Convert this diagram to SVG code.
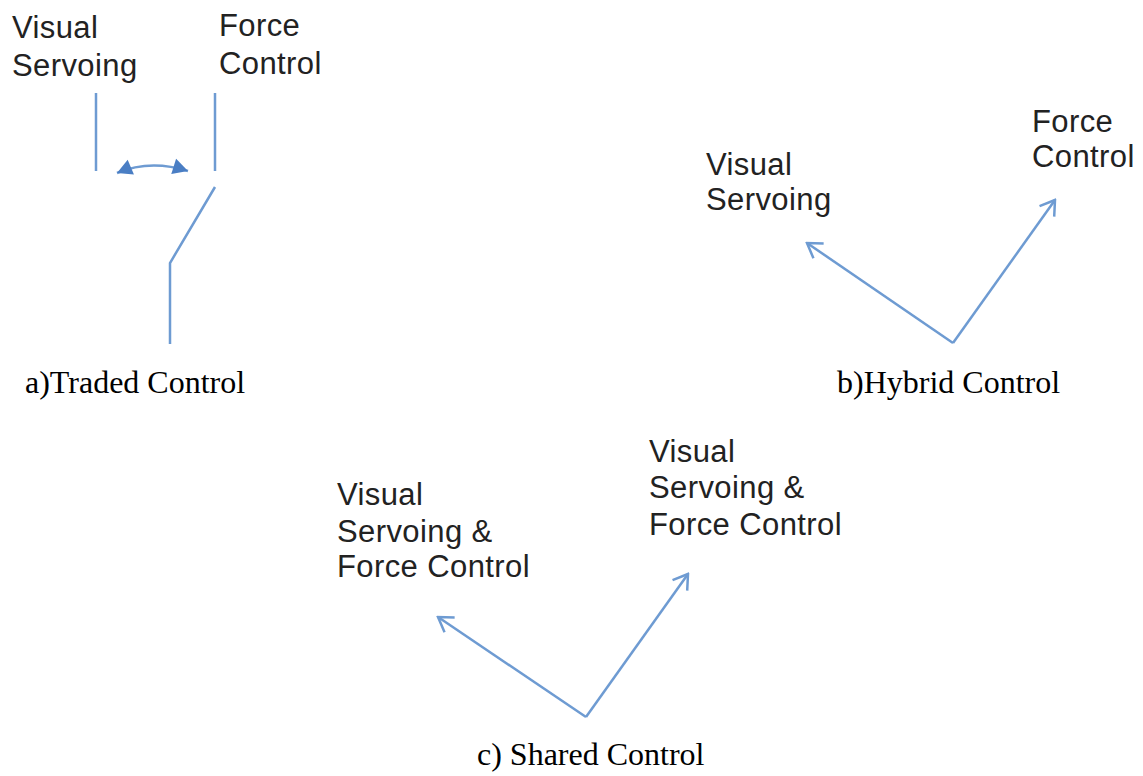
<svg xmlns="http://www.w3.org/2000/svg" width="1143" height="776" viewBox="0 0 1143 776">
<style>
.lbl{font-family:"Liberation Sans",Arial,sans-serif;font-size:31px;fill:#222;letter-spacing:0.4px}
.cap{font-family:"Liberation Serif","Times New Roman",serif;font-size:32px;fill:#000}
.ln{fill:none;stroke:#6E9BD2;stroke-width:2.5}
</style>
<defs>
<marker id="open" markerUnits="userSpaceOnUse" viewBox="-17 -11 19 22" refX="0" refY="0" markerWidth="19" markerHeight="22" orient="auto">
<path d="M-14,-9 L0,0 L-14,9" fill="none" stroke="#6E9BD2" stroke-width="2.5"/>
</marker>
<marker id="tri" markerUnits="userSpaceOnUse" viewBox="-16 -9 17 18" refX="0" refY="0" markerWidth="17" markerHeight="18" orient="auto-start-reverse">
<path d="M-15,-8 L0,0 L-15,8 Z" fill="#4A7EC4"/>
</marker>
</defs>
<rect width="1143" height="776" fill="#fff"/>

<g id="a-visual"><text class="lbl" x="12" y="38">Visual</text><text class="lbl" x="12" y="76">Servoing</text></g>
<g id="a-force"><text class="lbl" x="219" y="36">Force</text><text class="lbl" x="219" y="74">Control</text></g>
<g id="a-caption"><text class="cap" x="25" y="393">a)Traded Control</text></g>

<g id="b-visual"><text class="lbl" x="706" y="175">Visual</text><text class="lbl" x="706" y="210">Servoing</text></g>
<g id="b-force"><text class="lbl" x="1032" y="132">Force</text><text class="lbl" x="1032" y="167">Control</text></g>
<g id="b-caption"><text class="cap" x="837" y="393">b)Hybrid Control</text></g>

<g id="c-left"><text class="lbl" x="337" y="505">Visual</text><text class="lbl" x="337" y="542">Servoing &amp;</text><text class="lbl" x="337" y="577">Force Control</text></g>
<g id="c-right"><text class="lbl" x="649" y="462">Visual</text><text class="lbl" x="649" y="498">Servoing &amp;</text><text class="lbl" x="649" y="535">Force Control</text></g>
<g id="c-caption"><text class="cap" x="477" y="765">c) Shared Control</text></g>

<g id="connectors">
<line class="ln" x1="96" y1="93" x2="96" y2="171"/>
<line class="ln" x1="215" y1="93" x2="215" y2="171"/>
<polyline class="ln" points="215,187 170,263 170,344"/>
<path class="ln" d="M117,173 Q150,159 188,171" marker-start="url(#tri)" marker-end="url(#tri)"/>
<line class="ln" x1="953" y1="343" x2="807" y2="243" marker-end="url(#open)"/>
<line class="ln" x1="953" y1="343" x2="1055" y2="200" marker-end="url(#open)"/>
<line class="ln" x1="586" y1="717" x2="438" y2="617" marker-end="url(#open)"/>
<line class="ln" x1="586" y1="717" x2="688" y2="574" marker-end="url(#open)"/>
</g>
</svg>
